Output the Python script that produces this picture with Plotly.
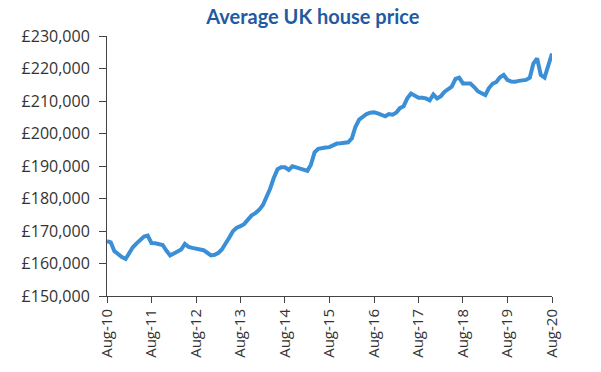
import plotly.graph_objects as go
import pandas as pd

# Monthly average UK house price, Aug 2010 .. Aug 2020 (in £ thousands)
months = pd.date_range("2010-08-01", "2020-08-01", freq="MS")
prices_k = [
    166.9, 166.5, 163.8, 162.8, 162.0, 161.4, 163.6, 165.0, 166.2, 167.2,
    168.3, 168.6, 166.3, 166.2, 166.1, 165.7, 164.0, 162.5, 163.1, 163.6,
    164.3, 166.0, 165.1, 164.8, 164.6, 164.4, 164.1, 163.3, 162.5, 162.7,
    163.3, 164.3, 166.0, 168.0, 170.0, 171.0, 171.5, 172.2, 173.5, 174.8,
    175.5, 176.5, 178.0, 180.3, 183.0, 186.3, 189.0, 189.6, 189.6, 188.8,
    189.9, 189.6, 189.2, 188.8, 188.5, 190.3, 194.2, 195.3, 195.6, 195.7,
    195.8, 196.4, 196.9, 197.0, 197.2, 197.3, 198.5, 202.0, 204.3, 205.3,
    206.0, 206.4, 206.5, 206.2, 205.8, 205.3, 206.0, 205.8, 206.5, 207.8,
    208.4, 210.8, 212.3, 211.5, 211.0, 211.0, 210.8, 210.2, 212.0, 210.8,
    211.5, 212.8, 213.5, 214.4, 216.8, 217.2, 215.4, 215.4, 215.4, 214.3,
    213.0, 212.4, 211.8, 213.9, 215.3, 215.8, 217.3, 218.0, 216.5, 216.0,
    215.9, 216.2, 216.4, 216.5, 217.2, 221.5, 223.1, 218.0, 217.2, 221.0,
    224.6,
]
prices = [v * 1000 for v in prices_k]

tick_dates = pd.date_range("2010-08-01", "2020-08-01", freq="12MS")
tick_labels = ["Aug-10", "Aug-11", "Aug-12", "Aug-13", "Aug-14", "Aug-15",
               "Aug-16", "Aug-17", "Aug-18", "Aug-19", "Aug-20"]
y_ticks = [150000, 160000, 170000, 180000, 190000, 200000, 210000, 220000, 230000]
y_labels = ["£150,000", "£160,000", "£170,000", "£180,000", "£190,000",
            "£200,000", "£210,000", "£220,000", "£230,000"]

fig = go.Figure(go.Scatter(
    x=months, y=prices, mode="lines",
    line=dict(color="#3b8fd6", width=4),
    hoverinfo="skip",
))

axis_col = "#444444"
yfont = dict(family="Open Sans, sans-serif", size=16, color="#333333")
xfont = dict(family="Open Sans, sans-serif", size=15, color="#333333")
fig.update_layout(
    width=593, height=364,
    margin=dict(l=99, r=49, t=28, b=76, autoexpand=False),
    paper_bgcolor="white", plot_bgcolor="white",
    showlegend=False,
    title=dict(text="<b>Average UK house price</b>", x=0.514, xanchor="center",
               y=1.0, yanchor="top", pad=dict(t=2, b=0),
               font=dict(family="Lato, sans-serif", size=20, color="#1f5ba3")),
    xaxis=dict(
        range=[months[0], months[-1]],
        tickvals=list(tick_dates), ticktext=tick_labels, tickangle=-90,
        showgrid=False, zeroline=False,
        showline=True, linecolor=axis_col, linewidth=1,
        ticks="outside", ticklen=6, tickcolor=axis_col,
        tickfont=xfont, automargin=False,
    ),
    yaxis=dict(
        range=[150000, 230000],
        tickvals=y_ticks, ticktext=y_labels,
        showgrid=False, zeroline=False,
        showline=True, linecolor=axis_col, linewidth=1,
        ticks="outside", ticklen=7, tickcolor=axis_col,
        tickfont=yfont, ticklabelstandoff=6, automargin=False,
    ),
)

fig.write_html("out.html")
